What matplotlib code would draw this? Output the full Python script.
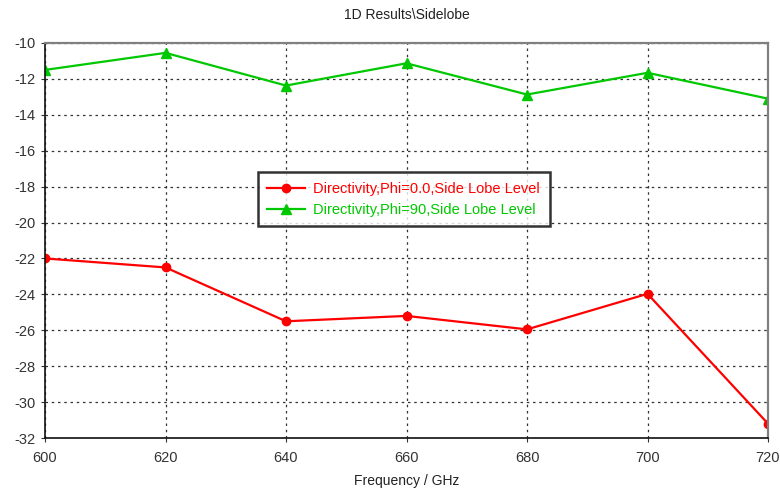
import numpy as np
import matplotlib.pyplot as plt

freq = [600, 620, 640, 660, 680, 700, 720]
sll_phi0 = [-22.0, -22.5, -25.5, -25.2, -25.95, -23.97, -31.2]
sll_phi90 = [-11.5, -10.55, -12.37, -11.13, -12.87, -11.66, -13.1]

plt.rcParams['font.family'] = ['Liberation Sans', 'DejaVu Sans']
plt.rcParams['axes.unicode_minus'] = False

fig = plt.figure(figsize=(7.8, 4.94), dpi=100)
ax = fig.add_axes([45/780, 1 - 438/494, 723/780, 395/494])

ax.plot(freq, sll_phi0, color='#ff0000', lw=1.6, marker='o', ms=6,
        label='Directivity,Phi=0.0,Side Lobe Level')
ax.plot(freq, sll_phi90, color='#00c800', lw=1.6, marker='^', ms=7,
        label='Directivity,Phi=90,Side Lobe Level')

ax.set_xlim(600, 720)
ax.set_ylim(-32, -10)
ax.set_xticks(np.arange(600, 721, 20))
ax.set_yticks(np.arange(-32, -9, 2))
ax.grid(True, color='#333333', linestyle=(0, (2, 3)), linewidth=0.9)
ax.tick_params(direction='out', length=3, labelsize=10.5, colors='#333333', pad=4)
ax.tick_params(axis='x', pad=6)

for s in ['left', 'bottom']:
    ax.spines[s].set_color('#111111')
    ax.spines[s].set_linewidth(1.2)
for s in ['top', 'right']:
    ax.spines[s].set_color('#808080')
    ax.spines[s].set_linewidth(1.6)

ax.set_xlabel('Frequency / GHz', fontsize=10, color='#222222', labelpad=7)
ax.set_title('1D Results\\Sidelobe', fontsize=10, color='#222222', pad=17)

leg = ax.legend(loc='upper left', bbox_to_anchor=(0.2946, 0.673), fontsize=10.5,
                frameon=True, fancybox=False, edgecolor='black',
                handlelength=2.6, handletextpad=0.55, borderpad=0.65,
                labelspacing=0.5, borderaxespad=0)
leg.get_frame().set_linewidth(1.8)
for txt, c in zip(leg.get_texts(), ['#ff0000', '#00c800']):
    txt.set_color(c)

fig.savefig('out.png', dpi=100)
